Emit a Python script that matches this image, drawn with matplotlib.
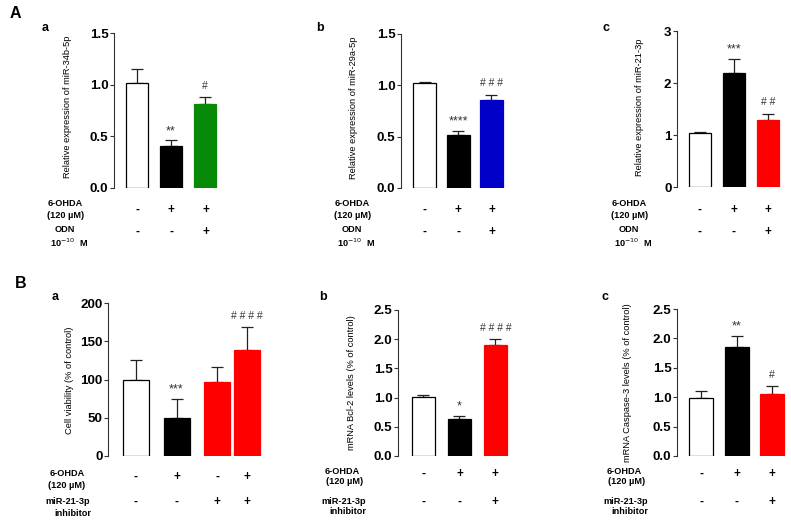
import matplotlib
matplotlib.use("Agg")
import matplotlib.pyplot as plt

plt.rcParams['font.family'] = ['Liberation Sans', 'DejaVu Sans']

W, H = 791, 524

# ---------------- data ----------------
aa_vals = [1.02, 0.41, 0.81]
aa_err = [0.13, 0.05, 0.07]
ab_vals = [1.02, 0.52, 0.86]
ab_err = [0.01, 0.04, 0.05]
ac_vals = [1.03, 2.20, 1.28]
ac_err = [0.02, 0.27, 0.13]
ba_vals = [100, 50, 97, 138]
ba_err = [26, 25, 19, 30]
bb_vals = [1.01, 0.64, 1.90]
bb_err = [0.03, 0.04, 0.10]
bc_vals = [0.98, 1.85, 1.06]
bc_err = [0.12, 0.19, 0.13]

aa_marks = ['', '**', '#']
ab_marks = ['', '****', '# # #']
ac_marks = ['', '***', '# #']
ba_marks = ['', '***', '', '# # # #']
bb_marks = ['', '*', '# # # #']
bc_marks = ['', '**', '#']

ylabels = {
    'Aa': 'Relative expression of miR-34b-5p',
    'Ab': 'Relative expression of miR-29a-5p',
    'Ac': 'Relative expression of miR-21-3p',
    'Ba': 'Cell viability (% of control)',
    'Bb': 'mRNA Bcl-2 levels (% of control)',
    'Bc': 'mRNA Caspase-3 levels (% of control)',
}

a_ohda = ['-', '+', '+']
a_odn = ['-', '-', '+']
ba_ohda = ['-', '+', '-', '+']
ba_inh = ['-', '-', '+', '+']
b_ohda = ['-', '+', '+']
b_inh = ['-', '-', '+']

fig = plt.figure(figsize=(W / 100, H / 100), dpi=100)
fig.patch.set_facecolor('white')


def make_panel(spine, ytop, y0, c0, sp, right, ymax, ticks, ticklabels):
    ax = fig.add_axes([spine / W, 1 - y0 / H, (right - spine) / W, (y0 - ytop) / H])
    ax.set_xlim((spine - c0) / sp, (right - c0) / sp)
    ax.set_ylim(0, ymax)
    for s in ['top', 'right', 'bottom']:
        ax.spines[s].set_visible(False)
    ax.spines['left'].set_linewidth(0.8)
    ax.spines['left'].set_color('#333333')
    ax.set_xticks([])
    ax.set_yticks(ticks)
    ax.set_yticklabels(ticklabels, fontsize=9.6, fontweight='bold')
    ax.tick_params(axis='y', length=3, width=0.8, pad=1, color='#333333')
    ax.patch.set_alpha(0)
    return ax


def draw_bars(ax, pos, vals, errs, colors, edges, width, marks):
    for x, v, e, c, ec, m in zip(pos, vals, errs, colors, edges, marks):
        ax.bar(x, v, width=width, color=c, edgecolor=ec, linewidth=0.9, zorder=2)
        ax.errorbar(x, v, yerr=[[0], [e]], fmt='none', ecolor='#222222',
                    elinewidth=0.9, capsize=4, capthick=0.9, zorder=1)
        if m:
            star = m.startswith('*')
            ax.annotate(m, (x, v + e), xytext=(0, 2.5 if star else 4.5),
                        textcoords='offset points', ha='center', va='bottom',
                        fontsize=9 if star else 7.5, color='#333333')


def txt(x, y, s, size=6.6, weight='bold', ha='center'):
    fig.text(x / W, 1 - y / H, s, fontsize=size, fontweight=weight,
             ha=ha, va='center')


# ---------------- Panel A ----------------
ax = make_panel(114, 33, 188, 137, 34, 225, 1.5, [0, 0.5, 1.0, 1.5],
                ['0.0', '0.5', '1.0', '1.5'])
draw_bars(ax, [0, 1, 2], aa_vals, aa_err, ['white', 'black', '#078a07'],
          ['black', 'black', '#078a07'], 22 / 34, aa_marks)

ax = make_panel(401, 34, 188, 424.5, 33.5, 510, 1.5, [0, 0.5, 1.0, 1.5],
                ['0.0', '0.5', '1.0', '1.5'])
draw_bars(ax, [0, 1, 2], ab_vals, ab_err, ['white', 'black', '#0000c8'],
          ['black', 'black', '#0000c8'], 23 / 33.5, ab_marks)

ax = make_panel(677, 31, 187, 700, 34, 786, 3, [0, 1, 2, 3],
                ['0', '1', '2', '3'])
draw_bars(ax, [0, 1, 2], ac_vals, ac_err, ['white', 'black', '#ff0000'],
          ['black', 'black', '#ff0000'], 22 / 34, ac_marks)

# ---------------- Panel B ----------------
ax = make_panel(108, 303, 456, 136, 40.5, 265, 200, [0, 50, 100, 150, 200],
                ['0', '50', '100', '150', '200'])
ba_pos = [0, 1, 2, 2.73]
draw_bars(ax, ba_pos, ba_vals, ba_err, ['white', 'black', '#ff0000', '#ff0000'],
          ['black', 'black', '#ff0000', '#ff0000'], 26 / 40.5, ba_marks)

ax = make_panel(398, 310, 456, 423.5, 36, 512, 2.5, [0, 0.5, 1.0, 1.5, 2.0, 2.5],
                ['0.0', '0.5', '1.0', '1.5', '2.0', '2.5'])
draw_bars(ax, [0, 1, 2], bb_vals, bb_err, ['white', 'black', '#ff0000'],
          ['black', 'black', '#ff0000'], 23.5 / 36, bb_marks)

ax = make_panel(677, 309, 456, 701, 35.5, 789, 2.5, [0, 0.5, 1.0, 1.5, 2.0, 2.5],
                ['0.0', '0.5', '1.0', '1.5', '2.0', '2.5'])
draw_bars(ax, [0, 1, 2], bc_vals, bc_err, ['white', 'black', '#ff0000'],
          ['black', 'black', '#ff0000'], 24 / 35.5, bc_marks)

# ---------------- y labels ----------------
for key, (x, y) in {'Aa': (68, 107), 'Ab': (353, 108), 'Ac': (640, 107),
                    'Ba': (70, 380), 'Bb': (351, 383), 'Bc': (628, 383)}.items():
    fig.text(x / W, 1 - y / H, ylabels[key], rotation=90, fontsize=6.7,
             ha='center', va='center')

# ---------------- panel letters ----------------
txt(15, 14, 'A', size=11.5)
txt(21, 284, 'B', size=11.5)
for (x, y, s) in [(45, 28, 'a'), (320, 28, 'b'), (606, 28, 'c'),
                  (55, 297, 'a'), (323, 297, 'b'), (605, 297, 'c')]:
    txt(x, y, s, size=9)

# ---------------- condition tables ----------------
for cx in [(65, 69), (352, 356), (629, 633)]:
    txt(cx[0], 204, '6-OHDA')
    txt(cx[0] + 1, 216, '(120 µM)')
    txt(cx[0], 230, 'ODN')
    txt(cx[1], 243, r'10$^{-10}$  M')

a_centers = [[137, 171, 205.5], [424.5, 458, 492], [700, 734, 768]]
for centers in a_centers:
    for c, s1, s2 in zip(centers, a_ohda, a_odn):
        txt(c, 210, s1, size=8.5)
        txt(c, 232, s2, size=8.5)

# B a
txt(67, 474, '6-OHDA')
txt(67, 486, '(120 µM)')
txt(68, 501, 'miR-21-3p')
txt(73, 513, 'inhibitor')
for c, s1, s2 in zip([136, 176.5, 217, 246.5], ba_ohda, ba_inh):
    txt(c, 477, s1, size=8.5)
    txt(c, 502, s2, size=8.5)

# B b, c
for (lx, centers) in [(342, [423.5, 459.5, 495]), (624, [701, 736.5, 772])]:
    txt(lx, 472, '6-OHDA')
    txt(lx + 3, 482, '(120 µM)')
    txt(lx + 2, 501, 'miR-21-3p')
    txt(lx + 6, 511, 'inhibitor')
    for c, s1, s2 in zip(centers, b_ohda, b_inh):
        txt(c, 474, s1, size=8.5)
        txt(c, 502, s2, size=8.5)

fig.savefig('out.png', dpi=100, facecolor='white')
